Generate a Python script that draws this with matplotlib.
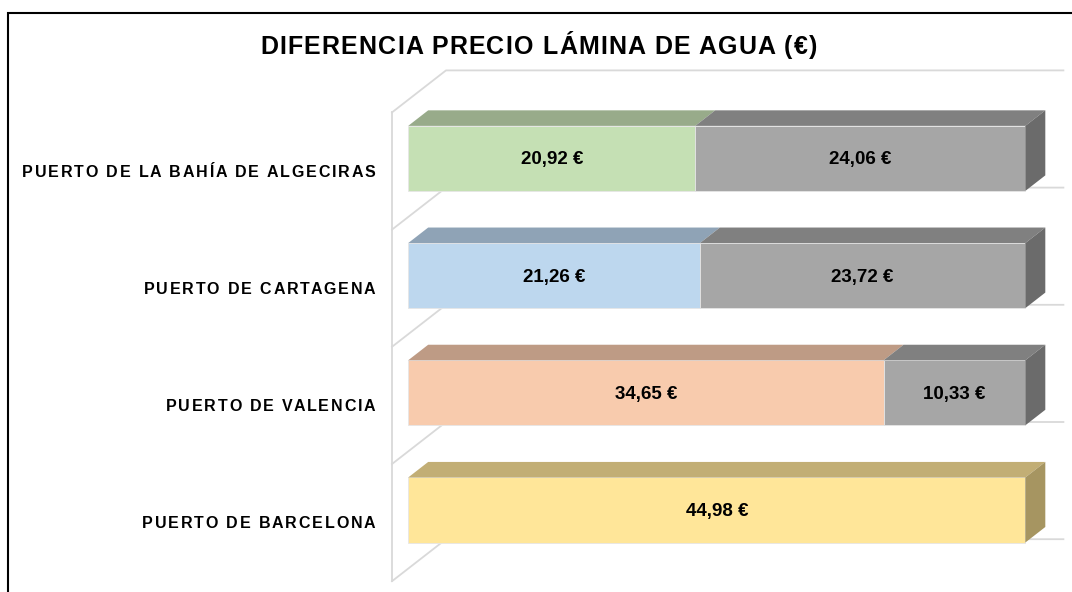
import matplotlib
matplotlib.use('Agg')
import matplotlib.pyplot as plt
from matplotlib.patches import Polygon, Rectangle
from matplotlib.font_manager import FontProperties
from matplotlib.transforms import IdentityTransform
import numpy as np

# Data (bottom to top, as drawn)
ports = ['PUERTO DE BARCELONA', 'PUERTO DE VALENCIA', 'PUERTO DE CARTAGENA',
         'PUERTO DE LA BAHÍA DE ALGECIRAS']
price_a = [44.98, 34.65, 21.26, 20.92]
price_b = [0.0, 10.33, 23.72, 24.06]
title = 'DIFERENCIA PRECIO LÁMINA DE AGUA (€)'

# face colours per port: (front, top, side)
port_colors = [('#FFE699', '#C2AE75', '#A69561'),
               ('#F8CBAD', '#BE9B85', '#A38370'),
               ('#BDD7EE', '#8FA3B6', '#7A8B9A'),
               ('#C5E0B4', '#98AB8A', '#829474')]
gray_colors = ('#A6A6A6', '#808080', '#6B6B6B')

plt.rcParams['font.family'] = ['Liberation Sans', 'DejaVu Sans']

W, H = 1072, 592
fig = plt.figure(figsize=(W / 100, H / 100), dpi=100)
ax = fig.add_axes([0, 0, 1, 1])
ax.set_axis_off()
renderer = fig.canvas.get_renderer()

# pseudo-3d projection: depth z in [0, 1] shifts right / up
px_per_val = 13.72
px_per_cat = 117.2
DX = 54 / px_per_val
DY = 42 / px_per_cat
x0_px, y0_px = 392, 522.6
ax.set_xlim(-x0_px / px_per_val, (W - x0_px) / px_per_val)
ax.set_ylim((y0_px - H) / px_per_cat, y0_px / px_per_cat)

def proj(v, y, z):
    return (v + z * DX, y + z * DY)


def spaced_text(x, y, s, size, spacing, ha='left'):
    """bold text with extra letter spacing; x, y in pixels (y = baseline)"""
    fp = FontProperties(family=['Liberation Sans', 'DejaVu Sans'], weight='bold', size=size)

    def wid(t):
        return renderer.get_text_width_height_descent(t, fp, ismath=False)[0]

    total = wid(s) + (len(s) - 1) * spacing
    if ha == 'right':
        x = x - total
    elif ha == 'center':
        x = x - total / 2
    for k, ch in enumerate(s):
        if ch == ' ':
            continue
        left = wid(s[:k + 1]) - wid(ch)
        fig.text(x + left + k * spacing, y, ch, fontproperties=fp, ha='left',
                 va='baseline', color='black', transform=IdentityTransform())


vmax = 45
n = len(ports)
grid_c = '#D9D9D9'

# walls / gridlines
b0, b1 = -0.5, n - 0.5
ax.plot(*zip(proj(0, b0, 0), proj(0, b1, 0)), color=grid_c, lw=1.3, zorder=1)
for k in range(n + 1):
    yb = k - 0.5
    pts = [proj(0, yb, 0), proj(0, yb, 1), proj(vmax, yb, 1)]
    ax.plot(*zip(*pts), color=grid_c, lw=1.3, zorder=1)

# bars
z1, z2 = 0.30, 0.67
bh = 0.555
ys = np.arange(n)
fronts = [c[0] for c in port_colors]
ax.barh(ys + z1 * DY, price_a, left=z1 * DX, height=bh, color=fronts,
        edgecolor='#E6E6E6', linewidth=0.6, zorder=3)
ax.barh(ys + z1 * DY, price_b, left=np.array(price_a) + z1 * DX, height=bh,
        color=gray_colors[0], edgecolor='#E6E6E6', linewidth=0.6, zorder=3)

lab_size = 11.5
cap_px = 0.716 * lab_size * fig.dpi / 72
for i in range(n):
    yt = i + bh / 2
    yb_ = i - bh / 2
    segs = [(0, price_a[i], port_colors[i])]
    if price_b[i] > 0:
        segs.append((price_a[i], price_a[i] + price_b[i], gray_colors))
    for (s, e, cols) in segs:
        top = [proj(s, yt, z1), proj(e, yt, z1), proj(e, yt, z2), proj(s, yt, z2)]
        ax.add_patch(Polygon(top, closed=True, facecolor=cols[1], edgecolor='none', zorder=3))
    s, e, cols = segs[-1]
    side = [proj(e, yb_, z1), proj(e, yt, z1), proj(e, yt, z2), proj(e, yb_, z2)]
    ax.add_patch(Polygon(side, closed=True, facecolor=cols[2], edgecolor='none', zorder=3))
    # value labels
    for (s, e, cols) in segs:
        cx, cy = proj((s + e) / 2, i, z1)
        ax.text(cx, cy - 0.012, f'{e - s:.2f} €'.replace('.', ','), ha='center', va='center',
                fontsize=13.5, fontweight='bold', color='black', zorder=5)
    # category labels
    lx, ly = ax.transData.transform((-1.2, i))
    spaced_text(lx, ly - cap_px / 2, ports[i], lab_size, 1.85, ha='right')

spaced_text(538.5, H - 54, title, 18, 1.2, ha='center')

fig.add_artist(Rectangle((8 / W, -0.1), 1.2, (H - 13) / H + 0.1,
                         transform=fig.transFigure, fill=False, edgecolor='black', lw=1.5))

fig.savefig('out.png', dpi=100)
